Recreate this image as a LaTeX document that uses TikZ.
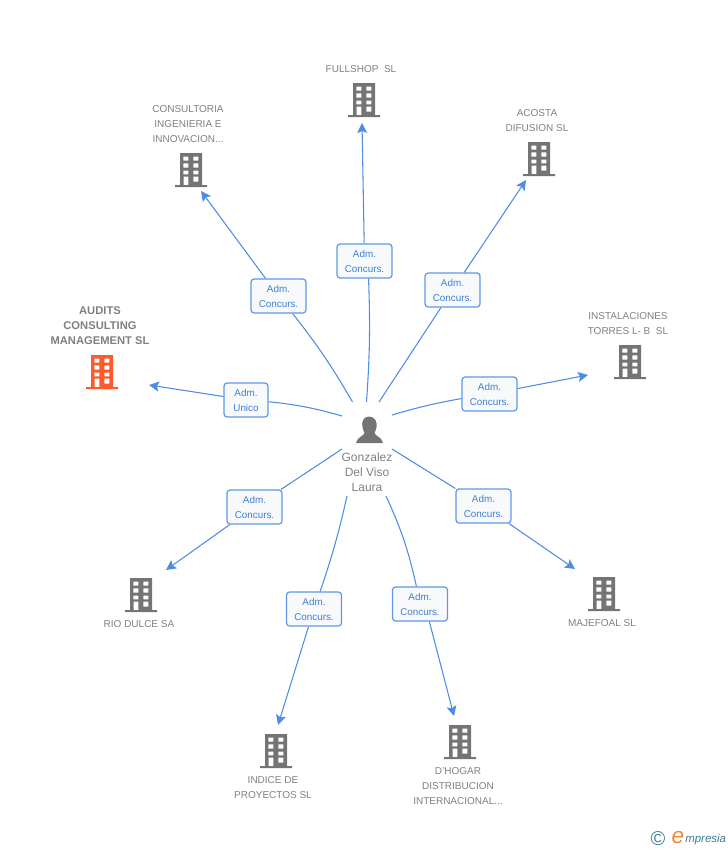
\documentclass[tikz,border=0pt]{standalone}
\usepackage{fontspec}
\setmainfont{Liberation Sans}
\usetikzlibrary{arrows.meta}

\definecolor{linkblue}{HTML}{4E8CE6}
\definecolor{boxblue}{HTML}{5E97E8}
\definecolor{boxtext}{HTML}{3F7FD8}
\definecolor{boxfill}{HTML}{F7F9FB}
\definecolor{officegray}{HTML}{747474}
\definecolor{officered}{HTML}{FF5A2B}
\definecolor{labelgray}{HTML}{808080}
\definecolor{logoteal}{HTML}{3E7D92}
\definecolor{logoorange}{HTML}{F28A2E}

\tikzset{
    link/.style={linkblue, line width=0.8pt},
    linkarrow/.style={link, -{Stealth[length=7.5pt, width=7.5pt, inset=1.5pt]}},
    rolebox/.style={draw=boxblue, fill=boxfill, line width=0.9pt, rounded corners=2.25pt,
        minimum width=41.25pt, minimum height=25.5pt, inner sep=0pt, align=center,
        text=boxtext, font=\fontsize{7.4}{11.25}\selectfont},
    company/.style={text=labelgray, align=center, inner sep=0pt,
        font=\fontsize{7.5}{11.25}\selectfont},
    companybold/.style={company, font=\fontsize{8.4}{11.25}\selectfont\bfseries},
    building/.pic={
        \path[pic actions, even odd rule]
            (-11,-17) rectangle (11,15)
            (-16,15) rectangle (16,17)
            (-7.7,-13.3) rectangle (-2.7,-9.3)
            (2.3,-13.3) rectangle (7.3,-9.3)
            (-7.7,-6.7) rectangle (-2.7,-2.3)
            (2.3,-6.7) rectangle (7.3,-2.3)
            (-7.7,0.7) rectangle (-2.7,4.3)
            (2.3,0.7) rectangle (7.3,4.3)
            (-7.3,6.7) rectangle (-2.7,15)
            (2.3,6.7) rectangle (7.3,11.7);
    }
}

\begin{document}
\begin{tikzpicture}[x=0.75pt, y=-0.75pt]

\useasboundingbox (0,0) rectangle (728,850);

% Draws person
\fill [officegray] (369,416.5) .. controls (362.5,416.5) and (361.5,423) .. (362.5,427)
    .. controls (363,430) and (364,432) .. (364.5,433)
    .. controls (364,436) and (357,437) .. (356,443) -- (383,443)
    .. controls (382,437) and (375,436) .. (374.5,433)
    .. controls (375,432) and (376,430) .. (376.5,427)
    .. controls (377.5,423) and (375.5,416.5) .. (369,416.5) -- cycle;
\node (person) [company, font=\fontsize{9}{11.25}\selectfont] at (367,472) {Gonzalez\\Del Viso\\Laura};

% Line ends around the person
\coordinate (fromFullshop) at (366.5,402);
\coordinate (fromConsultoria) at (352.5,402);
\coordinate (fromAcosta) at (379,402);
\coordinate (fromInstalaciones) at (392,415);
\coordinate (fromAudits) at (342,416);
\coordinate (fromRio) at (342,449);
\coordinate (fromMajefoal) at (392,449);
\coordinate (fromIndice) at (347,496);
\coordinate (fromHogar) at (386,496);

% Arrow ends next to the buildings
\coordinate (toFullshop) at (362,123);
\coordinate (toConsultoria) at (201,191);
\coordinate (toAcosta) at (526,180);
\coordinate (toInstalaciones) at (588,375);
\coordinate (toAudits) at (149,385);
\coordinate (toRio) at (166,570);
\coordinate (toMajefoal) at (575,569);
\coordinate (toIndice) at (278,725);
\coordinate (toHogar) at (454,716);

% Draws role boxes
\node (boxFullshop) [rolebox] at (364.5,261) {Adm.\\Concurs.};
\node (boxConsultoria) [rolebox] at (278.5,296) {Adm.\\Concurs.};
\node (boxAcosta) [rolebox] at (452.5,290) {Adm.\\Concurs.};
\node (boxInstalaciones) [rolebox] at (489.5,394) {Adm.\\Concurs.};
\node (boxAudits) [rolebox, minimum width=33pt] at (246,400) {Adm.\\Unico};
\node (boxRio) [rolebox] at (254.5,507) {Adm.\\Concurs.};
\node (boxMajefoal) [rolebox] at (483.5,506) {Adm.\\Concurs.};
\node (boxIndice) [rolebox] at (314,609) {Adm.\\Concurs.};
\node (boxHogar) [rolebox] at (420,604) {Adm.\\Concurs.};

% Draws links
\draw [link] (fromFullshop) to[bend right=3] (boxFullshop.-77);
\draw [link] (fromConsultoria) to[bend right=4] (boxConsultoria);
\draw [link] (fromAcosta) to (boxAcosta);
\draw [link] (fromInstalaciones) to[bend left=3] (boxInstalaciones);
\draw [link] (fromAudits) to[bend right=5] (boxAudits);
\draw [link] (fromRio) to (boxRio);
\draw [link] (fromMajefoal) to (boxMajefoal);
\draw [link] (fromIndice) to[bend left=3] (boxIndice);
\draw [link] (fromHogar) to[bend left=6] (boxHogar);

\draw [linkarrow] (boxFullshop) -- (toFullshop);
\draw [linkarrow] (boxConsultoria) -- (toConsultoria);
\draw [linkarrow] (boxAcosta) -- (toAcosta);
\draw [linkarrow] (boxInstalaciones) -- (toInstalaciones);
\draw [linkarrow] (boxAudits) -- (toAudits);
\draw [linkarrow] (boxRio) -- (toRio);
\draw [linkarrow] (boxMajefoal) -- (toMajefoal);
\draw [linkarrow] (boxIndice) -- (toIndice);
\draw [linkarrow] (boxHogar.-62) -- (toHogar);

% Draws buildings
\pic [fill=officegray] at (364,100) {building};
\pic [fill=officegray] at (191,170) {building};
\pic [fill=officegray] at (539,159) {building};
\pic [fill=officegray] at (630,362) {building};
\pic [fill=officered] at (102,372) {building};
\pic [fill=officegray] at (141,595) {building};
\pic [fill=officegray] at (604,594) {building};
\pic [fill=officegray] at (276,751) {building};
\pic [fill=officegray] at (460,742) {building};

% Draws company names
\node (fullshop) [company] at (361,69.5) {FULLSHOP\ \ SL};
\node (consultoria) [company] at (188,124.5) {CONSULTORIA\\INGENIERIA E\\INNOVACION...};
\node (acosta) [company] at (537,121) {ACOSTA\\DIFUSION SL};
\node (instalaciones) [company] at (628,324) {INSTALACIONES\\TORRES L- B\ \ SL};
\node (audits) [companybold] at (100,326) {AUDITS\\CONSULTING\\MANAGEMENT SL};
\node (rio) [company] at (139,624) {RIO DULCE SA};
\node (majefoal) [company] at (602,623) {MAJEFOAL SL};
\node (indice) [company] at (273,788) {INDICE DE\\PROYECTOS SL};
\node (hogar) [company] at (458,786) {D'HOGAR\\DISTRIBUCION\\INTERNACIONAL...};

% Draws logo
\node (copyright) [text=logoteal, inner sep=0pt, font=\fontsize{15}{15}\selectfont] at (658,839) {\textcopyright};
\node (logoe) [text=logoorange, inner sep=0pt, font=\fontsize{17}{17}\selectfont\itshape] at (678,838) {e};
\node (logotext) [text=logoteal, inner sep=0pt, anchor=west, font=\fontsize{8.6}{12}\selectfont\itshape] at (685,840) {mpresia};

\end{tikzpicture}
\end{document}
